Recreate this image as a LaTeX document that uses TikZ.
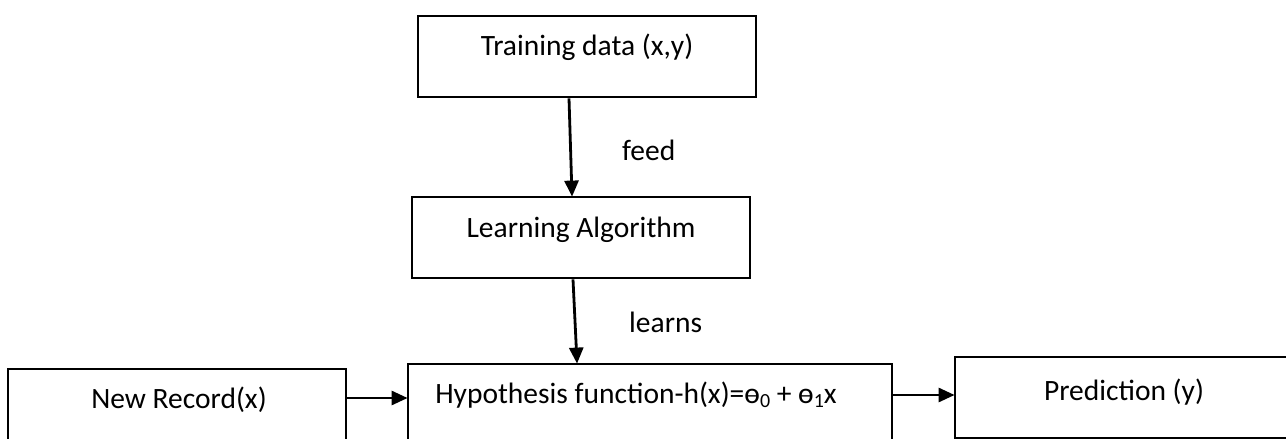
\documentclass[tikz,border=0pt]{standalone}
\usepackage{fontspec}
\setmainfont{Carlito}
\usetikzlibrary{arrows.meta}
\tikzset{
  box/.style={draw=black, line width=2.8pt, minimum width=338pt, minimum height=81pt, inner sep=0pt, fill=none},
  txt/.style={anchor=base, inner sep=0pt, font=\fontsize{29.5}{35}\selectfont},
  arr/.style={-{Triangle[length=16pt,width=14pt]}, line width=2.8pt, shorten >=-1pt},
}
\newcommand{\subdig}[1]{\raisebox{-4pt}{\fontsize{20}{20}\selectfont #1}}
\begin{document}
\begin{tikzpicture}[x=1pt,y=-1pt]
\useasboundingbox (0,0) rectangle (1286,439);
\begin{scope}
\clip (0,0) rectangle (1286,439);
\node[box] (train) at (587,56.5) {};
\node[box] (learn) at (581,237.5) {};
\node[box, minimum width=484pt] (hyp) at (650,404.5) {};
\node[box] (rec) at (177,409.5) {};
\node[box] (pred) at (1124,397.5) {};
\end{scope}
\node[txt] (traint) at (587,55) {Training data (x,y)};
\node[txt] (learnt) at (581,237) {Learning Algorithm};
\node[txt] (hypt) at (636,403) {Hypothesis function-h(x)=ɵ\subdig{0} + ɵ\subdig{1}x};
\node[txt] (rect) at (179,408) {New Record(x)};
\node[txt] (predt) at (1124,400) {Prediction (y)};
\node[txt, anchor=base west] (feed) at (622,160) {feed};
\node[txt, anchor=base west] (learns) at (629,332) {learns};
\draw[arr] ([xshift=-18pt]train.south) -- ([xshift=-9pt]learn.north);
\draw[arr] ([xshift=-8pt]learn.south) -- ([xshift=-73pt]hyp.north);
\draw[arr] ([yshift=11.5pt]rec.east) -- ([yshift=11.5pt]rec.east -| hyp.west);
\draw[arr] ([yshift=9.5pt]hyp.east) -- ([yshift=9.5pt]hyp.east -| pred.west);
\end{tikzpicture}
\end{document}
